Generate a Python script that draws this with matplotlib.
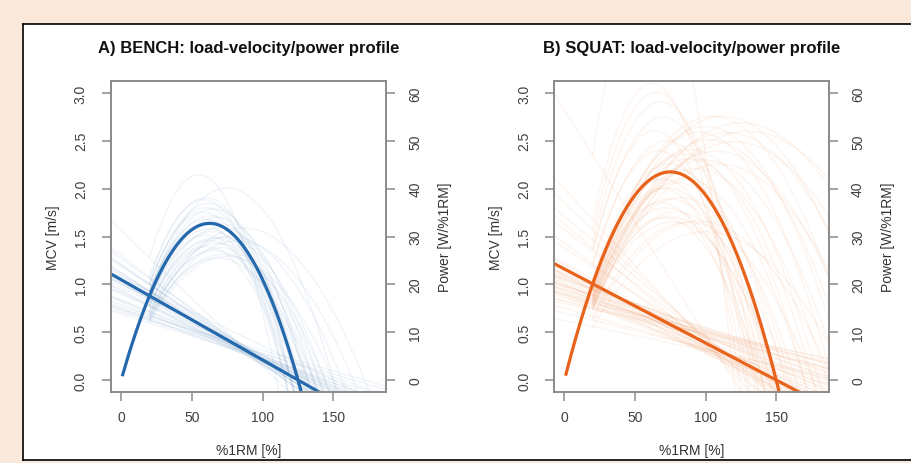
import numpy as np
import matplotlib.pyplot as plt
from matplotlib.patches import Rectangle
from matplotlib.lines import Line2D

#
# Load-velocity / power profiles, bench press and squat
# every subject: v0 = MCV at 0 %1RM [m/s], L0 = %1RM where MCV reaches zero
# power [W/%1RM] = load * velocity
#

bench_v0 = [1.56, 1.07, 1.27, 1.30, 1.19, 1.20, 1.10, 1.21, 1.09, 1.00,
            1.12, 1.00, 1.12, 0.91, 1.02, 0.97, 1.01, 0.83, 0.90, 0.94,
            0.84, 0.93, 0.79, 0.82, 0.73, 0.69, 0.75, 0.74, 0.71, 0.77]
bench_L0 = [110, 150, 120, 116, 124, 120, 130, 116, 126, 136,
            120, 132, 116, 140, 124, 128, 120, 144, 132, 124,
            136, 120, 140, 132, 144, 150, 136, 172, 164, 156]

squat_v0 = [1.85, 1.71, 1.57, 1.63, 1.38, 1.43,
            1.20, 1.10, 1.01, 1.16, 1.13, 1.03, 1.00, 0.91, 0.87, 0.89,
            1.09, 1.22, 0.93, 0.99, 0.97,
            1.07, 1.09, 1.06, 1.05, 0.98, 0.90, 0.83, 0.94, 0.95, 0.89,
            0.86, 0.98, 1.05, 0.82, 1.11, 0.80,
            2.82, 2.00, 0.70, 0.75, 0.62]
squat_L0 = [130, 136, 140, 128, 145, 134,
            140, 146, 150, 138, 156, 160, 144, 150, 152, 158,
            136, 148, 164, 170, 140,
            180, 190, 200, 210, 225, 230, 240, 196, 186, 215,
            250, 205, 176, 220, 170, 260,
            120, 124, 190, 176, 200]

# group profile (thick line)
bench_mean = [1.048, 125]
squat_mean = [1.16, 150]

x_ticks = [0, 50, 100, 150]
v_ticks = [0.0, 0.5, 1.0, 1.5, 2.0, 2.5, 3.0]
p_ticks = [0, 10, 20, 30, 40, 50, 60]

titles = ["A) BENCH: load-velocity/power profile", "B) SQUAT: load-velocity/power profile"]
colors = ["#2468ad", "#e8621a"]
thin_colors = ["#5f8fc0", "#f08a4c"]

plt.rcParams['font.family'] = ['Liberation Sans', 'DejaVu Sans']

W, H = 911, 464
fig = plt.figure(figsize=(W / 100, H / 100), dpi=100, facecolor='#fae8da')

# white panel with black frame
fig.add_artist(Rectangle((23 / W, 1 - 461 / H), (W - 23) / W, 436 / H,
                         transform=fig.transFigure, facecolor='white', edgecolor='none', zorder=-5))
for xs, ys in [([23, W], [25, 25]), ([23, W], [461, 461]), ([23, 23], [25, 461])]:
    fig.add_artist(Line2D([x / W for x in xs], [1 - y / H for y in ys],
                          transform=fig.transFigure, color='black', lw=1.2, zorder=-4))

panels = [
    (bench_v0, bench_L0, bench_mean, 111, 386),
    (squat_v0, squat_L0, squat_mean, 554.3, 828.7),
]

xx = np.linspace(-7.2, 187.2, 400)

for i, (v0s, L0s, mean, left, right) in enumerate(panels):
    col = colors[i]
    ax = fig.add_axes([left / W, 1 - 393 / H, (right - left) / W, 311 / H])
    ax2 = ax.twinx()

    # individual profiles
    xp = xx[xx >= 20]
    for v0, L0 in zip(v0s, L0s):
        ax.plot(xx, v0 * (1 - xx / L0), color=thin_colors[i], alpha=0.09, lw=1.0)
        ax2.plot(xp, xp * v0 * (1 - xp / L0), color=thin_colors[i], alpha=0.09, lw=1.0)

    # group profile
    v0, L0 = mean
    ax.plot(xx, v0 * (1 - xx / L0), color=col, lw=2.3)
    xm = xx[xx >= 1]
    ax2.plot(xm, xm * v0 * (1 - xm / L0), color=col, lw=2.3)

    ax.set_xlim(-7.2, 187.2)
    ax.set_ylim(-0.125, 3.125)
    ax2.set_ylim(-2.5, 62.5)
    ax.set_xticks(x_ticks)
    ax.set_yticks(v_ticks)
    ax.set_yticklabels([f"{v:.1f}" for v in v_ticks])
    ax2.set_yticks(p_ticks)

    for a in (ax, ax2):
        for s in a.spines.values():
            s.set_color('#8a8a8a')
            s.set_linewidth(1.2)
        a.tick_params(length=6.7, width=1.1, color='#8a8a8a', labelsize=10, labelcolor='#404040')
    ax.tick_params(axis='y', pad=10, labelrotation=90)
    ax.tick_params(axis='x', pad=6.5)
    ax2.tick_params(axis='y', pad=9.4, labelrotation=90)
    plt.setp(ax.get_yticklabels(), va='center')
    plt.setp(ax2.get_yticklabels(), va='center')

    cx = (left + right) / 2
    fig.text(cx / W, 1 - 49 / H, titles[i], ha='center', va='center',
             fontsize=12, fontweight='bold', color='#111111')
    fig.text(cx / W, 1 - 451 / H, "%1RM [%]", ha='center', va='center', fontsize=10, color='#333333')
    fig.text((left - 58) / W, 1 - 237.5 / H, "MCV [m/s]", ha='center', va='center',
             rotation=90, fontsize=10, color='#333333')
    fig.text((right + 59.5) / W, 1 - 237.5 / H, "Power [W/%1RM]", ha='center', va='center',
             rotation=90, fontsize=10, color='#333333')

fig.savefig("out.png", dpi=100, facecolor=fig.get_facecolor())
